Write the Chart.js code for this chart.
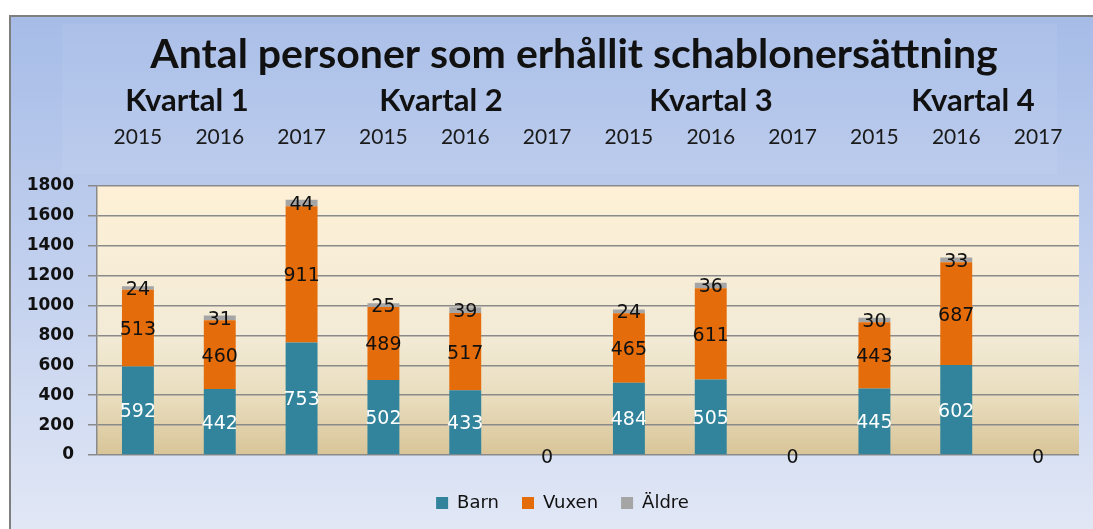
<!DOCTYPE html>
<html><head><meta charset="utf-8">
<script src="https://cdn.jsdelivr.net/npm/chart.js@4"></script>
<style>html,body{margin:0;padding:0;background:#fff;overflow:hidden}</style>
</head><body><canvas id="c" width="1093" height="529"></canvas>
<script>
const categories = ['K1 2015','K1 2016','K1 2017','K2 2015','K2 2016','K2 2017','K3 2015','K3 2016','K3 2017','K4 2015','K4 2016','K4 2017'];
const years = ['2015','2016','2017','2015','2016','2017','2015','2016','2017','2015','2016','2017'];
const quarters = ['Kvartal 1','Kvartal 2','Kvartal 3','Kvartal 4'];
const barn  = [592,442,753,502,433,0,484,505,0,445,602,0];
const vuxen = [513,460,911,489,517,0,465,611,0,443,687,0];
const aldre = [24,31,44,25,39,0,24,36,0,30,33,0];
const seriesNames = ['Barn','Vuxen','Äldre'];
const titleText = 'Antal personer som erhållit schablonersättning';

const quarterPos = [187, 441, 711, 973];

const bgPlugin = {
  id: 'bg',
  afterLayout(chart) {
    if (chart.legend) { chart.legend.left += 18; chart.legend.right += 18; }
  },
  beforeDraw(chart) {
    const ctx = chart.ctx, W = chart.width, H = chart.height;
    ctx.save();
    ctx.fillStyle = '#ffffff';
    ctx.fillRect(0, 0, W, H);
    const g = ctx.createLinearGradient(0, 15, 0, H);
    g.addColorStop(0, '#a6bce7');
    g.addColorStop(0.5, '#c2d0ee');
    g.addColorStop(1, '#e1e7f5');
    ctx.fillStyle = g;
    ctx.fillRect(9, 15, W - 9, H - 15);
    ctx.fillStyle = 'rgba(255,255,255,0.06)';
    ctx.fillRect(62, 24, 995, 150);
    ctx.strokeStyle = '#7f7f7f';
    ctx.lineWidth = 2;
    ctx.beginPath();
    ctx.moveTo(10, H); ctx.lineTo(10, 16); ctx.lineTo(W, 16);
    ctx.stroke();
    const a = chart.chartArea;
    const pg = ctx.createLinearGradient(0, a.top, 0, a.bottom);
    pg.addColorStop(0, '#fdf0d6');
    pg.addColorStop(0.55, '#f3ebd7');
    pg.addColorStop(0.8, '#e8dcbc');
    pg.addColorStop(1, '#d8c498');
    ctx.fillStyle = pg;
    ctx.fillRect(a.left, a.top, a.right - a.left, a.bottom - a.top);
    // titles
    ctx.fillStyle = '#111';
    ctx.textAlign = 'center';
    ctx.textBaseline = 'middle';
    ctx.font = 'bold 41px Lato';
    ctx.fillText(titleText, 574, 55);
    ctx.font = 'bold 31px Lato';
    quarters.forEach((q, i) => ctx.fillText(q, quarterPos[i], 101));
    ctx.restore();
  }
};

const labelPlugin = {
  id: 'vals',
  afterDatasetsDraw(chart) {
    const ctx = chart.ctx;
    ctx.save();
    ctx.textAlign = 'center';
    ctx.textBaseline = 'middle';
    ctx.font = '19px "DejaVu Sans"';
    const n = categories.length;
    for (let j = 0; j < n; j++) {
      let total = 0;
      chart.data.datasets.forEach((ds, i) => {
        const v = ds.data[j];
        total += v;
        if (v > 0) {
          const el = chart.getDatasetMeta(i).data[j];
          ctx.fillStyle = i === 0 ? '#ffffff' : '#111111';
          ctx.fillText(String(v), el.x, (el.y + el.base) / 2 + 2);
        }
      });
      if (total === 0) {
        const el = chart.getDatasetMeta(0).data[j];
        ctx.fillStyle = '#111111';
        ctx.fillText('0', el.x, el.base + 3);
      }
    }
    ctx.restore();
  }
};

new Chart(document.getElementById('c'), {
  type: 'bar',
  data: {
    labels: categories,
    datasets: [
      { label: seriesNames[0], data: barn,  backgroundColor: '#31849b' },
      { label: seriesNames[1], data: vuxen, backgroundColor: '#e46c0a' },
      { label: seriesNames[2], data: aldre, backgroundColor: '#a5a5a5' }
    ]
  },
  options: {
    responsive: false,
    animation: false,
    devicePixelRatio: 1,
    layout: { padding: { left: 10, right: 14, top: 0, bottom: 7 } },
    datasets: { bar: { categoryPercentage: 1, barPercentage: 0.39 } },
    scales: {
      x: {
        stacked: true,
        position: 'bottom',
        ticks: { display: false },
        grid: { display: false },
        border: { display: false },
        afterFit(s) { s.height = 16; s.paddingLeft = 0; s.paddingRight = 0; }
      },
      xTop: {
        type: 'category',
        labels: years,
        position: 'top',
        offset: true,
        grid: { display: false, drawTicks: false },
        border: { display: false },
        ticks: { color: '#1a1a1a', font: { family: 'Lato', size: 21 }, padding: 36, maxRotation: 0, autoSkip: false },
        afterFit(s) { s.height = 186; s.paddingLeft = 0; s.paddingRight = 0; }
      },
      y: {
        stacked: true,
        min: 0, max: 1800,
        ticks: { stepSize: 200, color: '#111', font: { family: 'DejaVu Sans', size: 17, weight: 'bold' }, padding: 14,
                 callback: (v) => String(v) },
        grid: { color: '#8a8a8a', lineWidth: 1.5, tickLength: 9 },
        border: { color: '#8a8a8a', width: 1.5 },
        afterFit(s) { s.width = 87; }
      }
    },
    plugins: {
      legend: {
        position: 'bottom',
        labels: { boxWidth: 12, boxHeight: 12, padding: 23, color: '#111', font: { family: 'DejaVu Sans', size: 18 } }
      },
      tooltip: { enabled: false }
    }
  },
  plugins: [bgPlugin, labelPlugin]
});
</script></body></html>
